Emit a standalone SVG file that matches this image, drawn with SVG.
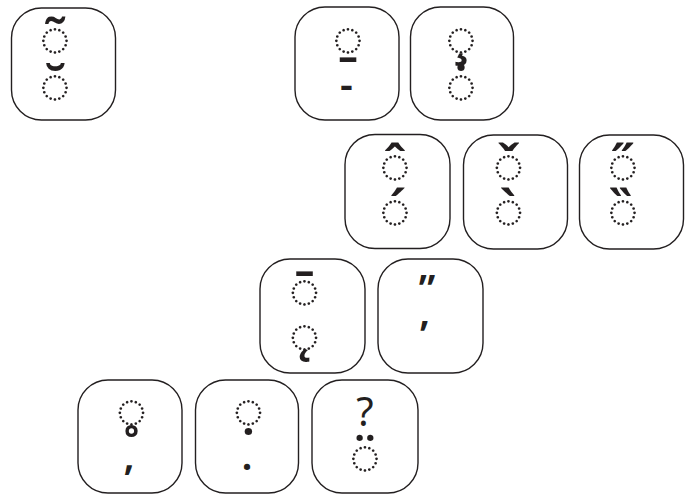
<svg xmlns="http://www.w3.org/2000/svg" width="689" height="495" viewBox="0 0 689 495">
<style>
.key{fill:#fff;stroke:#231f20;stroke-width:1.4}
.t{font-family:"Noto Sans","DejaVu Sans",sans-serif;font-size:40px;fill:#231f20;text-anchor:middle}
.m{font-size:52px;font-weight:600}
</style>
<rect width="689" height="495" fill="#fff"/>
<g id="key-a"><rect class="key" x="11.5" y="8" width="104" height="112" rx="30"/>
<text class="t m" x="55" y="55.6">◌̃</text><text class="t m" x="55" y="102.6">◌̆</text></g>
<g id="key-b"><rect class="key" x="295" y="7" width="104" height="113" rx="30"/>
<text class="t m" x="348" y="55.6">◌̱</text><text class="t" x="346.5" y="99" font-weight="600">-</text></g>
<g id="key-c"><rect class="key" x="410.5" y="7" width="103" height="113" rx="30"/>
<text class="t m" x="461" y="55.6">◌̧</text><text class="t m" x="461" y="102.6">◌̇</text></g>
<g id="key-d"><rect class="key" x="345" y="134.5" width="105" height="114" rx="30"/>
<text class="t m" x="395" y="182.6">◌̂</text><text class="t m" x="395" y="227.6">◌́</text></g>
<g id="key-e"><rect class="key" x="463.5" y="135" width="104" height="114" rx="30"/>
<text class="t m" x="508.5" y="182.6">◌̌</text><text class="t m" x="508.5" y="227.6">◌̀</text></g>
<g id="key-f"><rect class="key" x="579.5" y="135" width="104" height="114" rx="30"/>
<text class="t m" x="623" y="182.6">◌̋</text><text class="t m" x="623" y="227.6">◌̏</text></g>
<g id="key-g"><rect class="key" x="260" y="259" width="105" height="114" rx="30"/>
<text class="t m" x="304.5" y="307.6">◌̄</text><text class="t m" x="304.5" y="352.6">◌̨</text></g>
<g id="key-h"><rect class="key" x="378" y="259" width="105" height="114" rx="30"/>
<text class="t" x="427" y="303" font-weight="600">”</text><text class="t" x="424" y="349" font-weight="600">’</text></g>
<g id="key-i"><rect class="key" x="78" y="380" width="104" height="113" rx="30"/>
<text class="t m" x="131.5" y="427.6">◌̥</text><text class="t" x="129" y="470" font-weight="600">,</text></g>
<g id="key-j"><rect class="key" x="195.5" y="380" width="103" height="113" rx="30"/>
<text class="t m" x="248.5" y="427.6">◌̣</text><text class="t" x="247" y="470" font-weight="600">.</text></g>
<g id="key-k"><rect class="key" x="312" y="380" width="106" height="113" rx="30"/>
<text class="t" x="365" y="426">?</text><text class="t m" x="365" y="473.6">◌̈</text></g>
<g id="connectors"/>
</svg>
